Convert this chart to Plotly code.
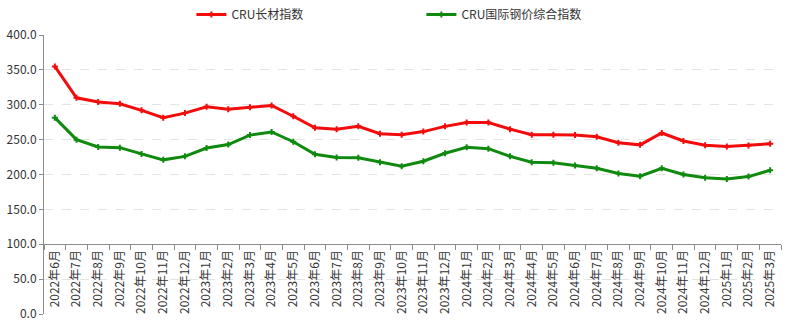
import plotly.graph_objects as go

# Monthly categories, June 2022 to March 2025
months = (
    [f"2022年{m}月" for m in range(6, 13)]
    + [f"2023年{m}月" for m in range(1, 13)]
    + [f"2024年{m}月" for m in range(1, 13)]
    + [f"2025年{m}月" for m in range(1, 4)]
)

# CRU long products index
long_products = [
    355, 310, 304, 301.5, 292, 281.5, 288, 297, 293.5, 296.5, 299, 283.5,
    267, 265, 269, 258.5, 257, 261.5, 269, 274.5, 274.5, 265, 257, 257,
    256.5, 254, 245.5, 242.5, 259.5, 248, 242, 240, 241.5, 244,
]

# CRU global steel price composite index
composite = [
    281.5, 250, 239.5, 238.5, 229.5, 221, 226, 238, 243, 256.5, 261, 247,
    229, 224.5, 224, 217.5, 212, 219, 230.5, 239, 237, 226, 217.5, 217,
    213, 209, 201.5, 197.5, 209, 200, 195.5, 193.5, 197, 206,
]

y_ticks = [0, 50, 100, 150, 200, 250, 300, 350, 400]

FONT = "Noto Sans CJK SC"
RED = "#f20c0c"
GREEN = "#0f8a0f"

fig = go.Figure()
fig.add_trace(go.Scatter(
    x=months, y=long_products, name="CRU长材指数", mode="lines+markers",
    line=dict(color=RED, width=3),
    marker=dict(symbol="cross", size=5, color=RED),
))
fig.add_trace(go.Scatter(
    x=months, y=composite, name="CRU国际钢价综合指数", mode="lines+markers",
    line=dict(color=GREEN, width=3),
    marker=dict(symbol="cross", size=5, color=GREEN),
))

fig.update_layout(
    width=789, height=324,
    margin=dict(l=44, r=8, t=35, b=10, autoexpand=False),
    paper_bgcolor="white", plot_bgcolor="white",
    font=dict(family=FONT, size=12, color="#333333"),
    showlegend=True,
    legend=dict(
        orientation="h", x=0.2, xanchor="left", y=1.0, yanchor="top",
        yref="container", entrywidth=185, entrywidthmode="pixels",
        font=dict(family=FONT, size=12, color="#333333"),
        bgcolor="rgba(0,0,0,0)", borderwidth=0,
    ),
    xaxis=dict(
        type="category", anchor="free", position=0.25,
        domain=[0, 1], range=[-0.5, len(months) - 0.5], automargin=False,
        showline=True, linecolor="#8c8c8c", linewidth=1,
        ticks="outside", ticklen=5, tickcolor="#8c8c8c", tickson="boundaries",
        tickangle=-90, showgrid=False, zeroline=False,
        tickfont=dict(family=FONT, size=12, color="#333333"),
    ),
    yaxis=dict(
        range=[0, 400], tickvals=y_ticks, domain=[0, 1], automargin=False,
        ticktext=[f"{v:.1f}" for v in y_ticks],
        showline=True, linecolor="#8c8c8c", linewidth=1,
        ticks="outside", ticklen=4, tickcolor="#8c8c8c",
        showgrid=True, gridcolor="#e4e4e4", griddash="dash", gridwidth=1,
        zeroline=False,
        tickfont=dict(family=FONT, size=12, color="#333333"),
    ),
)

fig.write_html("out.html")
